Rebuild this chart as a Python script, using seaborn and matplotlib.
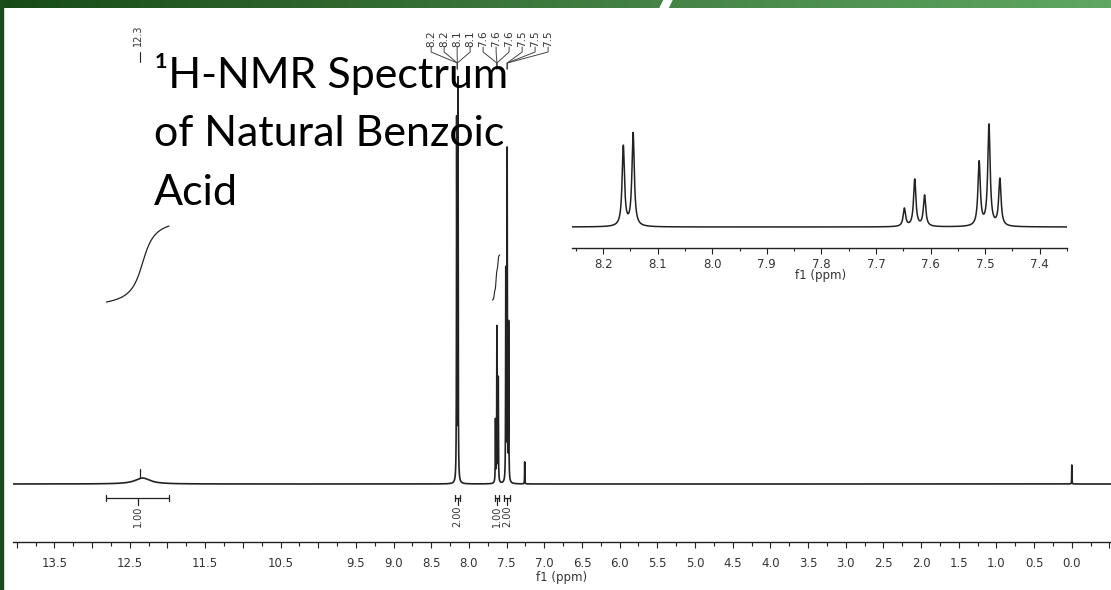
import numpy as np
import matplotlib
matplotlib.use("Agg")
import matplotlib.pyplot as plt
import seaborn as sns
import pandas as pd
from matplotlib.colors import LinearSegmentedColormap
from matplotlib.patches import Polygon, Rectangle
from matplotlib.ticker import FixedLocator, FixedFormatter, MultipleLocator

# ---------------- DATA ----------------
line_ppm = [8.163, 8.145, 7.648, 7.629, 7.611, 7.511, 7.493, 7.473]
main_height = [360, 400, 62, 155, 104, 210, 330, 157]
inset_height = [80, 93, 18, 47, 31, 64, 101, 47]
line_gamma = 0.0026

solvent_ppm = [7.26, 0.00]
solvent_height = [22, 19]
solvent_gamma = 0.0018

acid_ppm = 12.33
acid_height = 6
acid_gamma = 0.12

peak_label_text = ["8.2", "8.2", "8.1", "8.1", "7.6", "7.6", "7.6", "7.5", "7.5", "7.5"]
peak_label_group = [0, 0, 0, 0, 1, 1, 1, 2, 2, 2]
group_ppm = [8.154, 7.629, 7.492]
acid_label = "12.3"
acid_label_ppm = 12.36

integral_start = [12.81, 8.18, 7.66, 7.53]
integral_end = [11.98, 8.12, 7.60, 7.46]
integral_text = ["1.00", "2.00", "1.00", "2.00"]

main_tick_values = [14.0, 13.5, 13.0, 12.5, 12.0, 11.5, 11.0, 10.5, 10.0, 9.5, 9.0, 8.5, 8.0,
                    7.5, 7.0, 6.5, 6.0, 5.5, 5.0, 4.5, 4.0, 3.5, 3.0, 2.5, 2.0, 1.5, 1.0,
                    0.5, 0.0, -0.5]
main_tick_labels = ["", "13.5", "", "12.5", "", "11.5", "", "10.5", "", "9.5", "9.0", "8.5",
                    "8.0", "7.5", "7.0", "6.5", "6.0", "5.5", "5.0", "4.5", "4.0", "3.5",
                    "3.0", "2.5", "2.0", "1.5", "1.0", "0.5", "0.0", ""]
inset_tick_values = [8.2, 8.1, 8.0, 7.9, 7.8, 7.7, 7.6, 7.5, 7.4]
inset_tick_labels = ["8.2", "8.1", "8.0", "7.9", "7.8", "7.7", "7.6", "7.5", "7.4"]

title_lines = ["\u00b9H-NMR Spectrum", "of Natural Benzoic", "Acid"]
axis_label = "f1 (ppm)"

# ---------------- STYLE ----------------
sns.set_theme(style="white")
plt.rcParams["font.family"] = ["DejaVu Sans"]

W, H = 1111, 590
fig = plt.figure(figsize=(W / 100, H / 100), dpi=100)
fig.patch.set_facecolor("white")

def fx(px):
    return px / W

def fy(py):
    return 1 - py / H

def lorentz(x, x0, h, g):
    return h * g ** 2 / ((x - x0) ** 2 + g ** 2)

ink = "#222222"
txt = "#333333"

# ---------------- MAIN SPECTRUM ----------------
ax = fig.add_axes([fx(13), fy(542), fx(1111 - 13), (542 - 10) / H])
ax.set_facecolor("none")
xs = np.linspace(14.05, -0.55, 29201)
ys = lorentz(xs, acid_ppm, acid_height, acid_gamma)
for p, h in zip(line_ppm, main_height):
    ys = ys + lorentz(xs, p, h, line_gamma)
for p, h in zip(solvent_ppm, solvent_height):
    ys = ys + lorentz(xs, p, h, solvent_gamma)
df_main = pd.DataFrame({"ppm": xs, "I": ys})
sns.lineplot(data=df_main, x="ppm", y="I", ax=ax, color=ink, linewidth=1.2,
             estimator=None, sort=False)
ax.set_xlim(14.05, -0.52)
ax.set_ylim(-58, 474)

for s in ["top", "left", "right"]:
    ax.spines[s].set_visible(False)
ax.spines["bottom"].set_color(ink)
ax.spines["bottom"].set_linewidth(1.0)
ax.set_yticks([])
ax.set_ylabel("")
ax.set_xlabel("")
ax.xaxis.set_major_locator(FixedLocator(main_tick_values))
ax.xaxis.set_major_formatter(FixedFormatter(main_tick_labels))
ax.xaxis.set_minor_locator(MultipleLocator(0.25))
ax.tick_params(axis="x", which="major", direction="out", length=4.5, width=0.8,
               color=ink, labelsize=8.5, labelcolor=txt, pad=6.5, bottom=True)
ax.tick_params(axis="x", which="minor", direction="out", length=3, width=0.8,
               color=ink, bottom=True)

# acid peak marker
ax.plot([acid_label_ppm, acid_label_ppm], [6, 15], color=ink, lw=0.9)

# integral curves
m = (xs <= integral_start[0]) & (xs >= integral_end[0])
cx = xs[m]
cy = np.cumsum(lorentz(cx, acid_ppm, acid_height, acid_gamma))
cy = (cy - cy.min()) / (cy.max() - cy.min())
ax.plot(cx, 182 + 76 * cy, color=ink, lw=0.9)

m2 = (xs <= 7.67) & (xs >= 7.59)
cx2 = xs[m2]
g2 = sum(lorentz(cx2, p, h, line_gamma) for p, h in zip(line_ppm[2:5], main_height[2:5]))
cy2 = np.cumsum(g2)
cy2 = (cy2 - cy2.min()) / (cy2.max() - cy2.min())
ax.plot(cx2 + 0.02 * (1 - cy2), 184 + 45 * cy2, color=ink, lw=0.8)

# integral bars
for a, b, t in zip(integral_start, integral_end, integral_text):
    c = (a + b) / 2
    ax.plot([a, b], [-14, -14], color=ink, lw=0.9)
    ax.plot([a, a], [-11, -17], color=ink, lw=0.9)
    ax.plot([b, b], [-11, -17], color=ink, lw=0.9)
    ax.plot([c, c], [-14, -21], color=ink, lw=0.9)
    ax.text(c, -32, t, rotation=90, ha="center", va="center", fontsize=7, color=txt)

# acid label on top
ax.text(acid_label_ppm + 0.03, 449, acid_label, rotation=90, ha="center", va="center",
        fontsize=7, color=txt)
ax.plot([acid_label_ppm, acid_label_ppm], [422, 432], color=ink, lw=0.8)

# multiplet labels on top
px_per_ppm = 75.4
label_ppm0 = (1072 - 431) / px_per_ppm
for i, (t, g) in enumerate(zip(peak_label_text, peak_label_group)):
    lp = label_ppm0 - i * 13 / px_per_ppm
    ax.text(lp, 445, t, rotation=90, ha="center", va="center", fontsize=7.5, color=txt)
    gp = group_ppm[g]
    ax.plot([lp, lp, gp, gp], [437, 432, 421, 415], color="#444444", lw=0.7)

# ---------------- INSET ----------------
axin = fig.add_axes([fx(572), fy(248), fx(1067 - 572), (248 - 100) / H])
axin.set_facecolor("none")
xi = np.linspace(8.26, 7.35, 9101)
yi = np.zeros_like(xi)
for p, h in zip(line_ppm, inset_height):
    yi = yi + lorentz(xi, p, h, line_gamma)
df_in = pd.DataFrame({"ppm": xi, "I": yi})
sns.lineplot(data=df_in, x="ppm", y="I", ax=axin, color=ink, linewidth=1.1,
             estimator=None, sort=False)
axin.set_xlim(8.257, 7.35)
axin.set_ylim(-21, 127)
for s in ["top", "left", "right"]:
    axin.spines[s].set_visible(False)
axin.spines["bottom"].set_color(ink)
axin.spines["bottom"].set_linewidth(1.0)
axin.set_yticks([])
axin.set_xlabel("")
axin.set_ylabel("")
axin.xaxis.set_major_locator(FixedLocator(inset_tick_values))
axin.xaxis.set_major_formatter(FixedFormatter(inset_tick_labels))
axin.xaxis.set_minor_locator(MultipleLocator(0.05))
axin.tick_params(axis="x", which="major", direction="out", length=4.5, width=0.8,
                 color=ink, labelsize=8.5, labelcolor=txt, pad=2.5, bottom=True)
axin.tick_params(axis="x", which="minor", direction="out", length=2.5, width=0.8,
                 color=ink, bottom=True)

fig.text(fx(562), fy(577), axis_label, ha="center", va="center", fontsize=8.5, color=txt)
fig.text(fx(821), fy(275), axis_label, ha="center", va="center", fontsize=8.5, color=txt)

# ---------------- TITLE ----------------
for i, line in enumerate(title_lines):
    fig.text(fx(154), fy(88 + 58.5 * i), line, ha="left", va="baseline",
             fontsize=31, color="black", family=["Lato", "DejaVu Sans"], zorder=10)

# ---------------- SLIDE DECORATION ----------------
bax = fig.add_axes([0, fy(8), 1, 8 / H])
grad = np.linspace(0, 1, 512).reshape(1, -1)
cmap = LinearSegmentedColormap.from_list("band", ["#174a17", "#3f7a3f", "#5fa862"])
bax.imshow(grad, aspect="auto", cmap=cmap, extent=[0, 1, 0, 1])
bax.set_axis_off()
fig.add_artist(Polygon([[fx(664), 1], [fx(672), 1], [fx(668), fy(8)], [fx(660), fy(8)]],
                       closed=True, transform=fig.transFigure, color="white", zorder=20))
fig.add_artist(Rectangle((0, 0), fx(3), 1, transform=fig.transFigure,
                         color="#1a4b1a", zorder=20))

fig.savefig("out.png", dpi=100, facecolor="white")
